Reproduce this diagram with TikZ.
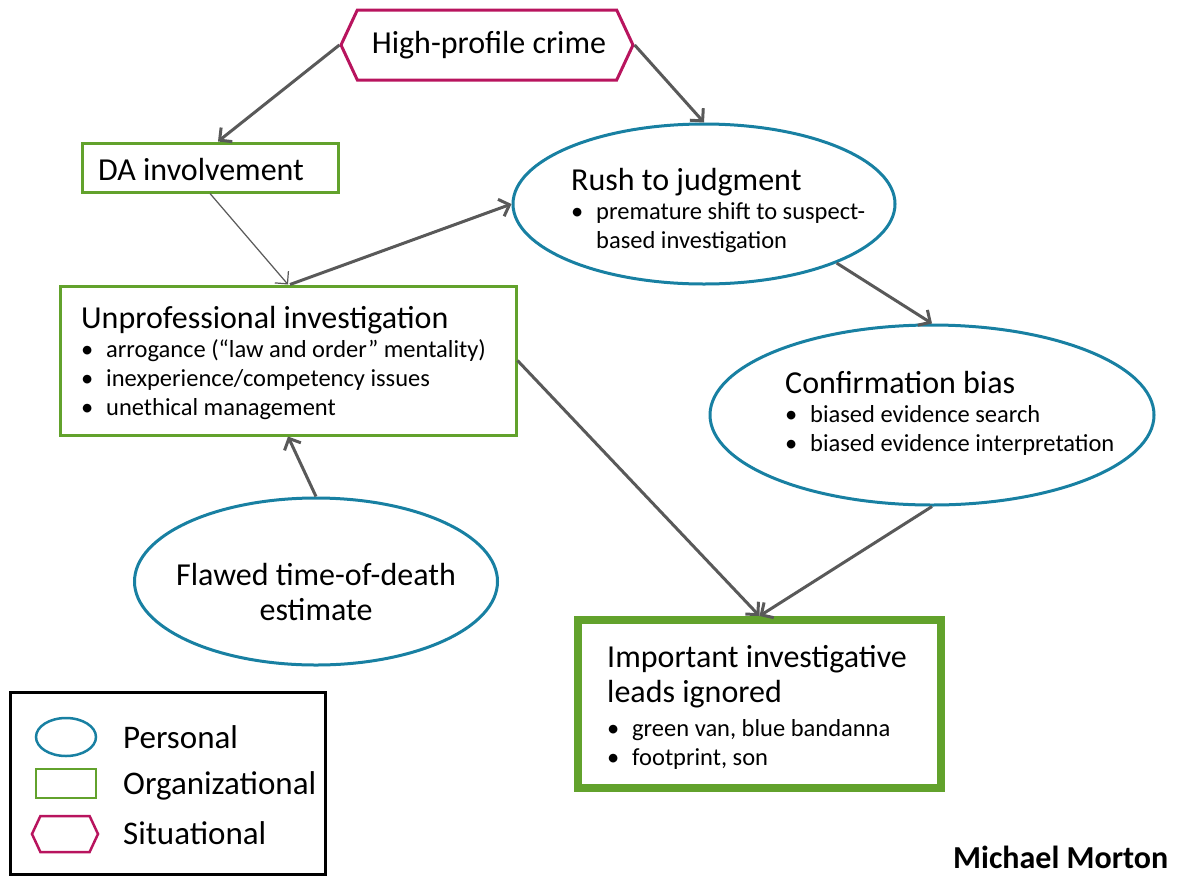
\documentclass[tikz,border=0pt]{standalone}
\usepackage{fontspec}
\setmainfont{Carlito}
\usetikzlibrary{arrows.meta,shapes.geometric,shapes.symbols}

\definecolor{persblue}{RGB}{24,128,162}
\definecolor{orggreen}{RGB}{98,162,44}
\definecolor{sitred}{RGB}{184,20,94}
\definecolor{linkgray}{RGB}{89,89,89}

\newcommand{\titlesize}{\fontsize{32}{35}\selectfont}
\newcommand{\itemsize}{\fontsize{24.5}{29}\selectfont}
\newcommand{\bul}{\makebox[25pt][l]{\textbullet}}

\tikzset{
  personal/.style={ellipse, draw=persblue, line width=3pt, inner sep=0pt},
  organizational/.style={rectangle, draw=orggreen, line width=3pt, inner sep=0pt},
  situational/.style={signal, signal to=east and west, signal pointer angle=130,
    draw=sitred, line width=3pt, inner sep=0pt},
  link/.style={draw=linkgray, line width=3pt, -{Straight Barb[length=9pt,width=18pt]}},
  boxtext/.style={align=left, anchor=west, inner sep=0pt, font=\itemsize},
}

\begin{document}
\begin{tikzpicture}[x=1pt,y=-1pt]
\useasboundingbox (0,0) rectangle (1185,876);

% Factors
\node[situational, minimum width=292pt, minimum height=70pt] (crime) at (487,45) {};
\node[font=\titlesize, inner sep=0pt] (crimetext) at (489,45) {High-profile crime};

\node[organizational, minimum width=256pt, minimum height=49pt] (da) at (210,167.5) {};
\node[boxtext, font=\titlesize] (datext) at (98,170) {DA involvement};

\node[personal, minimum width=382pt, minimum height=160pt] (rush) at (704,204) {};
\node[boxtext] (rushtext) at (571,210) {{\titlesize Rush to judgment}\\
  \bul premature shift to suspect-\\
  \hspace*{25pt}based investigation};

\node[organizational, minimum width=456pt, minimum height=149pt] (unprof) at (288,360.5) {};
\node[boxtext] (unproftext) at (81,363) {{\titlesize Unprofessional investigation}\\
  \bul arrogance (“law and order” mentality)\\
  \bul inexperience/competency issues\\
  \bul unethical management};

\node[personal, minimum width=444pt, minimum height=180pt] (conf) at (932,415) {};
\node[boxtext] (conftext) at (785,413) {{\titlesize Confirmation bias}\\
  \bul biased evidence search\\
  \bul biased evidence interpretation};

\node[personal, minimum width=363pt, minimum height=167pt] (flawed) at (316,581.5) {};
\node[align=center, font=\titlesize, inner sep=0pt] (flawedtext) at (316,592)
  {Flawed time-of-death\\estimate};

\node[organizational, line width=8pt, minimum width=363pt, minimum height=168pt] (leads) at (759.5,704) {};
\node[boxtext] (leadstext) at (607,707) {{\titlesize Important investigative}\\[6pt]
  {\titlesize leads ignored}\\[5pt]
  \bul green van, blue bandanna\\
  \bul footprint, son};

% Links
\draw[link] (crime.west) -- ([xshift=8pt]da.north);
\draw[link] (crime.east) -- (rush.north);
\draw[link, line width=1.2pt] (da.south) -- (unprof.north);
\draw[link] ([xshift=2pt]unprof.north) -- (rush.west);
\draw[link] (rush.-24) -- (conf.north);
\draw[link] (unprof.east) -- (leads.north);
\draw[link] (conf.south) -- (leads.north);
\draw[link] (flawed.north) -- (unprof.south);

% Legend
\node[draw=black, line width=3pt, minimum width=315pt, minimum height=182pt, inner sep=0pt] (legend) at (167.5,783) {};
\node[personal, line width=2.5pt, minimum width=60pt, minimum height=38pt] (keypers) at (66,737) {};
\node[organizational, line width=2.5pt, minimum width=60pt, minimum height=29pt] (keyorg) at (66,783.5) {};
\node[situational, line width=2.5pt, minimum width=66pt, minimum height=36pt] (keysit) at (65,834) {};
\node[boxtext, font=\fontsize{33}{36}\selectfont] (keyperstext) at (123,737) {Personal};
\node[boxtext, font=\fontsize{33}{36}\selectfont] (keyorgtext) at (123,786) {Organizational};
\node[boxtext, font=\fontsize{33}{36}\selectfont] (keysittext) at (123,833) {Situational};

\node[boxtext, font=\fontsize{32}{35}\selectfont\bfseries] (author) at (953,857) {Michael Morton};
\end{tikzpicture}
\end{document}
